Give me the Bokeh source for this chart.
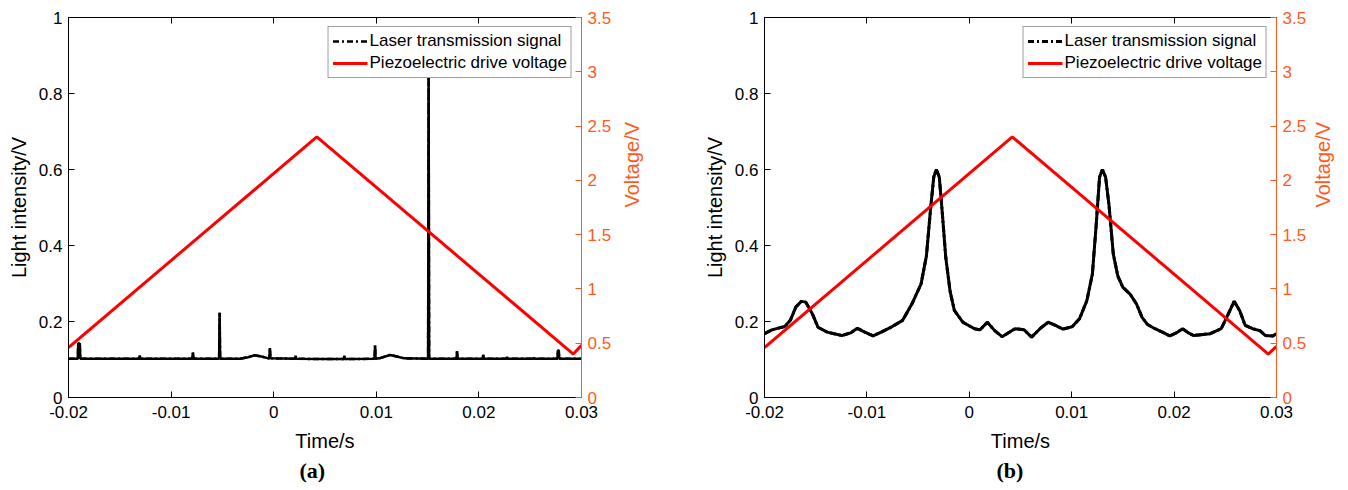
import math
from bokeh.plotting import figure
from bokeh.models import (Range1d, LinearAxis, FixedTicker, Legend, LegendItem,
                          Title, CustomJSTickFormatter, ColumnDataSource)
from bokeh.layouts import row
from bokeh.embed import file_html
from bokeh.resources import INLINE

# ---------------- data ----------------
x_ticks = [-0.02, -0.01, 0, 0.01, 0.02, 0.03]
x_tick_labels = ["-0.02", "-0.01", "0", "0.01", "0.02", "0.03"]
y_ticks = [0, 0.2, 0.4, 0.6, 0.8, 1]
y_tick_labels = ["0", "0.2", "0.4", "0.6", "0.8", "1"]
v_ticks = [0, 0.5, 1, 1.5, 2, 2.5, 3, 3.5]
v_tick_labels = ["0", "0.5", "1", "1.5", "2", "2.5", "3", "3.5"]

# piezo drive voltage (right axis, V)
volt_time = [-0.0200, 0.0042, 0.0292, 0.0300]
volt_a = [0.46, 2.40, 0.40, 0.48]
volt_b = [0.46, 2.40, 0.40, 0.47]

# (a) laser transmission signal
sig_a_time = [-0.02000, -0.01910, -0.01905, -0.01890, -0.01885,
              -0.01310, -0.01305, -0.01300,
              -0.00795, -0.00787, -0.00780,
              -0.00532, -0.00527, -0.00522,
              -0.00330, -0.00250, -0.00186, -0.00120, -0.00050,
              -0.00042, -0.00037, -0.00032,
              0.00208, 0.00213, 0.00218,
              0.00500,
              0.00684, 0.00689, 0.00694,
              0.00983, 0.00988, 0.00993,
              0.01030, 0.01134, 0.01200, 0.01273,
              0.01505, 0.01510, 0.01515,
              0.01782, 0.01787, 0.01792,
              0.02038, 0.02043, 0.02048,
              0.02270, 0.02274, 0.02278,
              0.02530, 0.02535, 0.02540,
              0.02765, 0.02770, 0.02778, 0.02783,
              0.03000]
sig_a_val = [0.102, 0.102, 0.142, 0.142, 0.102,
             0.102, 0.110, 0.102,
             0.102, 0.118, 0.102,
             0.102, 0.223, 0.102,
             0.102, 0.106, 0.111, 0.108, 0.103,
             0.103, 0.130, 0.103,
             0.102, 0.110, 0.102,
             0.101,
             0.101, 0.110, 0.101,
             0.102, 0.137, 0.102,
             0.103, 0.112, 0.108, 0.103,
             0.102, 0.853, 0.102,
             0.102, 0.122, 0.102,
             0.102, 0.113, 0.102,
             0.102, 0.107, 0.102,
             0.102, 0.105, 0.102,
             0.102, 0.124, 0.124, 0.102,
             0.102]

# (b) laser transmission signal
sig_b_time = [-0.02000, -0.01928, -0.01802, -0.01748, -0.01694, -0.01640, -0.01597,
              -0.01532, -0.01478, -0.01388, -0.01245, -0.01160, -0.01093, -0.01020,
              -0.00939, -0.00860, -0.00777, -0.00651, -0.00561, -0.00471, -0.00419,
              -0.00377, -0.00347, -0.00322, -0.00293, -0.00263, -0.00230, -0.00188,
              -0.00146, -0.00062, 0.00050, 0.00104, 0.00176, 0.00248, 0.00320,
              0.00446, 0.00536, 0.00608, 0.00698, 0.00770, 0.00842, 0.00914,
              0.01004, 0.01076, 0.01148, 0.01202, 0.01238, 0.01272, 0.01300,
              0.01331, 0.01364, 0.01406, 0.01450, 0.01500, 0.01570, 0.01633,
              0.01687, 0.01741, 0.01813, 0.01885, 0.01957, 0.02020, 0.02083,
              0.02140, 0.02191, 0.02353, 0.02460, 0.02514, 0.02586, 0.02640,
              0.02694, 0.02766, 0.02838, 0.02892, 0.02964, 0.03000]
sig_b_val = [0.168, 0.178, 0.187, 0.203, 0.238, 0.253, 0.251,
             0.220, 0.185, 0.172, 0.163, 0.170, 0.182, 0.172,
             0.162, 0.172, 0.183, 0.203, 0.246, 0.299, 0.372,
             0.500, 0.580, 0.600, 0.580, 0.483, 0.369, 0.280,
             0.229, 0.198, 0.181, 0.178, 0.198, 0.176, 0.160,
             0.181, 0.178, 0.159, 0.183, 0.198, 0.190, 0.180,
             0.186, 0.207, 0.255, 0.325, 0.450, 0.580, 0.600,
             0.580, 0.507, 0.378, 0.320, 0.290, 0.272, 0.246,
             0.211, 0.192, 0.181, 0.172, 0.162, 0.170, 0.181,
             0.170, 0.163, 0.168, 0.181, 0.211, 0.253, 0.229,
             0.190, 0.181, 0.176, 0.163, 0.162, 0.168]

# ---------------- style ----------------
FONT = "Liberation Sans"
ORANGE = "#FF5A1E"
RED = "#FF0000"
TICK_FS = "17px"
TITLE_FS = "20px"


def make_panel(sig_t, sig_v, volt_v, caption, width, left_border, right_border,
               line_w, cap_offset, v_title_standoff):
    p = figure(width=width, height=490, x_range=Range1d(-0.02, 0.03),
               y_range=Range1d(0, 1), output_backend="svg", toolbar_location=None,
               min_border_left=left_border, min_border_right=right_border,
               min_border_top=17, min_border_bottom=93)
    p.extra_y_ranges = {"v": Range1d(0, 3.5)}
    p.xgrid.visible = False
    p.ygrid.visible = False
    p.outline_line_color = "black"
    p.outline_line_width = 1
    p.background_fill_color = "white"
    p.border_fill_color = "white"

    # bottom axis
    xa = p.xaxis[0]
    xa.ticker = FixedTicker(ticks=x_ticks)
    xa.major_label_overrides = dict(zip(x_ticks, x_tick_labels))
    xa.axis_label = "Time/s"
    # left axis
    ya = p.yaxis[0]
    ya.ticker = FixedTicker(ticks=y_ticks)
    ya.major_label_overrides = dict(zip(y_ticks, y_tick_labels))
    ya.axis_label = "Light intensity/V"
    for ax in (xa, ya):
        ax.major_tick_in = 6
        ax.major_tick_out = 0
        ax.minor_tick_line_color = None
        ax.axis_line_color = "black"
        ax.major_tick_line_color = "black"
        ax.major_label_text_font = FONT
        ax.major_label_text_font_size = TICK_FS
        ax.major_label_text_color = "black"
        ax.axis_label_text_font = FONT
        ax.axis_label_text_font_size = TITLE_FS
        ax.axis_label_text_font_style = "normal"
        ax.axis_label_text_color = "black"
    xa.major_label_standoff = 8
    xa.axis_label_standoff = 9
    ya.major_label_standoff = 6
    ya.axis_label_standoff = 6

    # top axis: ticks only
    top = LinearAxis(ticker=FixedTicker(ticks=x_ticks),
                     formatter=CustomJSTickFormatter(code="return ''"),
                     major_tick_in=6, major_tick_out=0, minor_tick_line_color=None,
                     major_label_standoff=0, axis_line_color="black",
                     major_label_text_font_size="1px")
    p.add_layout(top, "above")

    # right axis (voltage)
    ra = LinearAxis(y_range_name="v", ticker=FixedTicker(ticks=v_ticks),
                    major_label_overrides=dict(zip(v_ticks, v_tick_labels)),
                    axis_label="Voltage/V")
    ra.major_tick_in = 6
    ra.major_tick_out = 0
    ra.minor_tick_line_color = None
    ra.axis_line_color = ORANGE
    ra.major_tick_line_color = ORANGE
    ra.major_label_text_color = ORANGE
    ra.major_label_text_font = FONT
    ra.major_label_text_font_size = TICK_FS
    ra.major_label_standoff = 6
    ra.axis_label_text_color = ORANGE
    ra.axis_label_text_font = FONT
    ra.axis_label_text_font_size = TITLE_FS
    ra.axis_label_text_font_style = "normal"
    ra.axis_label_standoff = v_title_standoff
    ra.axis_label_orientation = math.pi / 2
    p.add_layout(ra, "right")

    src = ColumnDataSource(data=dict(t=sig_t, v=sig_v))
    r_leg = p.line("t", "v", source=src, color="black", line_width=line_w,
                   line_dash="6 3 2 3")
    p.line("t", "v", source=src, color="black", line_width=line_w)
    vsrc = ColumnDataSource(data=dict(t=volt_time, v=volt_v))
    r_volt = p.line("t", "v", source=vsrc, color=RED, line_width=3,
                    y_range_name="v")

    legend = Legend(items=[
        LegendItem(label="Laser transmission signal", renderers=[r_leg]),
        LegendItem(label="Piezoelectric drive voltage", renderers=[r_volt]),
    ], location="top_right")
    legend.margin = 9
    legend.padding = 4
    legend.spacing = 2
    legend.glyph_width = 35
    legend.glyph_height = 20
    legend.label_height = 20
    legend.label_standoff = 2
    legend.label_text_font = FONT
    legend.label_text_font_size = "17px"
    legend.label_text_color = "black"
    legend.border_line_color = "#404040"
    legend.border_line_width = 1
    legend.background_fill_color = "white"
    legend.background_fill_alpha = 1
    p.add_layout(legend)

    cap = Title(text=caption, align="left", text_font="Liberation Serif",
                text_font_style="bold", text_font_size="22px", text_color="black",
                offset=cap_offset, standoff=2)
    p.add_layout(cap, "below")
    return p


pa = make_panel(sig_a_time, sig_a_val, volt_a, "(a)", 690, 68, 109, 2.5, 231, 18)
pb = make_panel(sig_b_time, sig_b_val, volt_b, "(b)", 658, 74, 69, 3, 232, 14)

layout = row(pa, pb)
with open("out.html", "w") as f:
    f.write(file_html(layout, INLINE))
